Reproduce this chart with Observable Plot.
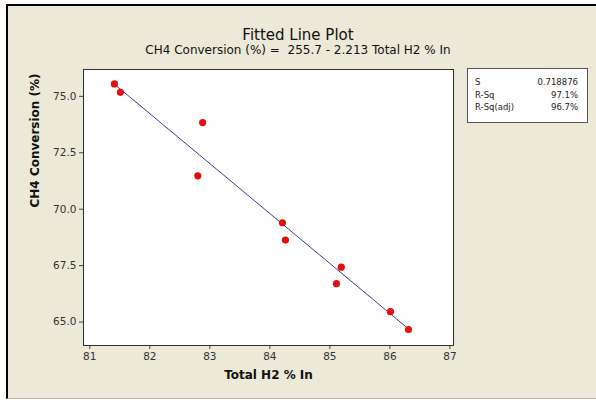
<!DOCTYPE html>
<html>
<head>
<meta charset="utf-8">
<script src="https://cdn.jsdelivr.net/npm/d3@7"></script>
<script src="https://cdn.jsdelivr.net/npm/@observablehq/plot@0.6"></script>
<style>
  html, body { margin: 0; padding: 0; background: #ffffff; }
  #root { position: relative; width: 596px; height: 400px; overflow: hidden; font-family: "DejaVu Sans", sans-serif; }
  #page { position: absolute; left: 6px; top: 4px; width: 590px; height: 392px;
          background: #ECE9D8; border-left: 2px solid #000; border-top: 2px solid #000; border-bottom: 1px solid #b8b6ab; }
  #chart { position: absolute; left: 0; top: 0; }
  .title { position: absolute; left: 0; width: 596px; text-align: center; color: #111; white-space: pre; }
  #stats { position: absolute; left: 467px; top: 68px; width: 121px; height: 55px; background: #fff;
           border: 1px solid #555; box-sizing: border-box; font-size: 8.5px; color: #222; }
  #stats .row { position: absolute; left: 7px; right: 9px; height: 12px; line-height: 12px; }
  #stats .row span.v { position: absolute; right: 0; }
</style>
</head>
<body>
<div id="root">
  <div id="page"></div>
  <div id="chart"></div>
  <div class="title" id="t1" style="top:26px;font-size:15px;"></div>
  <div class="title" id="t2" style="top:43px;font-size:12px;"></div>
  <div id="stats"></div>
</div>
<script>
// ---- data ----
const totalH2 = [81.41, 81.51, 82.88, 82.80, 84.21, 84.26, 85.19, 85.11, 86.01, 86.31];
const ch4Conversion = [75.55, 75.18, 73.84, 71.48, 69.40, 68.63, 67.43, 66.70, 65.46, 64.67];
const fitCoefficients = [255.7, -2.213]; // intercept, slope
const xTicks = [81, 82, 83, 84, 85, 86, 87];
const yTicks = [65, 67.5, 70, 72.5, 75];
const statLabels = ["S", "R-Sq", "R-Sq(adj)"];
const statValues = ["0.718876", "97.1%", "96.7%"];
const titleText = "Fitted Line Plot";
const subtitleText = "CH4 Conversion (%) =  255.7 - 2.213 Total H2 % In";
const xLabel = "Total H2 % In";
const yLabel = "CH4 Conversion (%)";

const points = totalH2.map((x, i) => ({x, y: ch4Conversion[i]}));
const xExt = d3.extent(totalH2);
const fitLine = xExt.map(x => ({x, y: fitCoefficients[0] + fitCoefficients[1] * x}));

const chart = Plot.plot({
  width: 596,
  height: 400,
  marginLeft: 83,
  marginRight: 143,
  marginTop: 69,
  marginBottom: 55,
  style: {background: "transparent", fontFamily: "DejaVu Sans, sans-serif", fontSize: "10.5px", color: "#333"},
  x: {domain: [80.895, 87.06]},
  y: {domain: [63.96, 76.19]},
  marks: [
    Plot.frame({fill: "white", stroke: "#2e2e2e"}),
    Plot.axisX({ticks: xTicks, tickSize: 4, tickPadding: 3, tickFormat: d3.format("d"), label: null, stroke: "#444", fill: "#333"}),
    Plot.axisY({ticks: yTicks, tickSize: 4, tickPadding: 3, tickFormat: d3.format(".1f"), label: null, stroke: "#444", fill: "#333"}),
    Plot.line(fitLine, {x: "x", y: "y", stroke: "#3b3f8c", strokeWidth: 1}),
    Plot.dot(points, {x: "x", y: "y", r: 3.6, fill: "#e31010", stroke: "none"}),
    Plot.text([xLabel], {frameAnchor: "bottom", dy: 33, fontWeight: "bold", fontSize: 12, fill: "#111"}),
    Plot.text([yLabel], {frameAnchor: "left", dx: -48, rotate: -90, fontWeight: "bold", fontSize: 12, fill: "#111"})
  ]
});
document.getElementById("chart").appendChild(chart);
document.getElementById("t1").textContent = titleText;
document.getElementById("t2").textContent = subtitleText;
const stats = document.getElementById("stats");
statLabels.forEach((lab, i) => {
  const row = document.createElement("div");
  row.className = "row";
  row.style.top = (7 + i * 12.5) + "px";
  const l = document.createElement("span"); l.textContent = lab;
  const v = document.createElement("span"); v.className = "v"; v.textContent = statValues[i];
  row.appendChild(l); row.appendChild(v);
  stats.appendChild(row);
});
</script>
</body>
</html>
